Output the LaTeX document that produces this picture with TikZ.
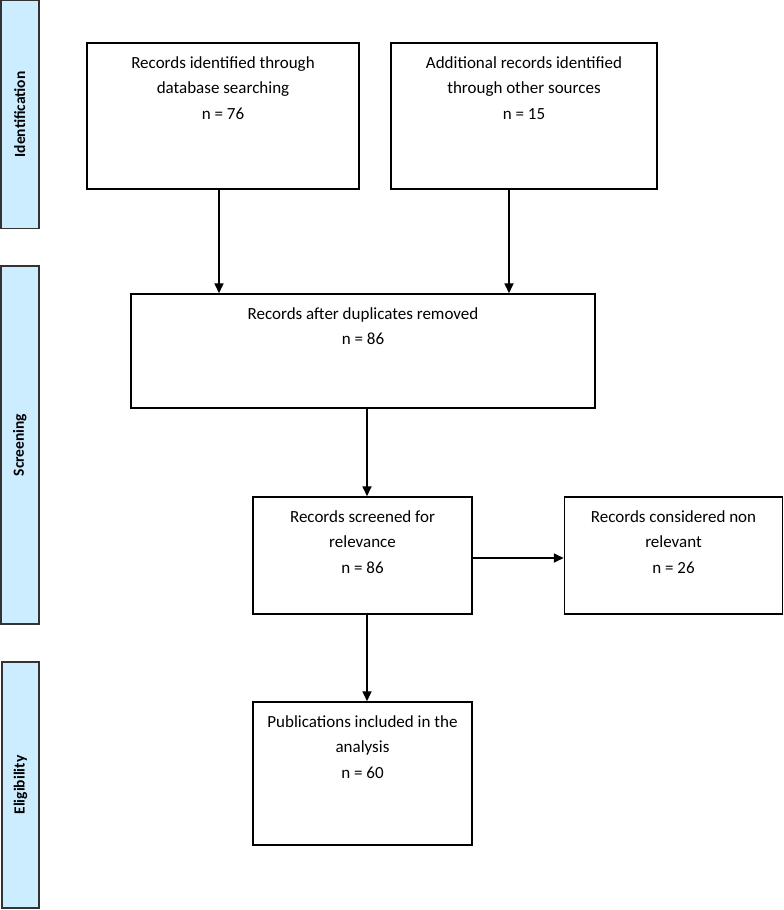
\documentclass[tikz,border=0pt]{standalone}
\usepackage{fontspec}
\setmainfont{Carlito}
\usetikzlibrary{arrows.meta}
\definecolor{phasefill}{RGB}{204,236,255}
\definecolor{phaseline}{RGB}{51,51,51}
\begin{document}
\begin{tikzpicture}[x=1pt,y=-1pt,
  box/.style={draw=black,line width=1.5pt,fill=white,inner sep=0pt},
  txt/.style={align=center,inner sep=0pt,anchor=north,font=\fontsize{17}{25.5}\selectfont},
  phase/.style={draw=phaseline,line width=1.4pt,fill=phasefill,inner sep=0pt,rotate=90,
    font=\fontsize{15.5}{18}\selectfont\bfseries},
  arr/.style={line width=1.7pt,-{Triangle[length=10pt,width=9pt]}}]
\useasboundingbox (0,0) rectangle (784,910);
% phase bars
\node[phase,minimum width=228pt,minimum height=38pt] (p1) at (19.8,114.5) {Identification};
\node[phase,minimum width=358pt,minimum height=38pt] (p2) at (19.8,445) {Screening};
\node[phase,minimum width=246pt,minimum height=37pt] (p3) at (20.5,785) {Eligibility};
% boxes
\node[box,minimum width=272pt,minimum height=146pt] (b1) at (223,116) {};
\node[box,minimum width=266pt,minimum height=146pt] (b2) at (524,116) {};
\node[box,minimum width=464pt,minimum height=114pt] (b3) at (363,351) {};
\node[box,minimum width=219pt,minimum height=117pt] (b4) at (362.5,555.5) {};
\node[box,minimum width=218pt,minimum height=117pt] (b5) at (673.5,555.5) {};
\node[box,minimum width=219pt,minimum height=143pt] (b6) at (362.5,773.5) {};
% texts
\node[txt] (t1) at ([yshift=-14pt]b1.north) {Records identified through\\database searching\\n = 76};
\node[txt] (t2) at ([yshift=-14pt]b2.north) {Additional records identified\\through other sources\\n = 15};
\node[txt] (t3) at ([yshift=-14pt]b3.north) {Records after duplicates removed\\n = 86};
\node[txt] (t4) at ([yshift=-14pt]b4.north) {Records screened for\\relevance\\n = 86};
\node[txt] (t5) at ([yshift=-14pt]b5.north) {Records considered non\\relevant\\n = 26};
\node[txt] (t6) at ([yshift=-14pt]b6.north) {Publications included in the\\analysis\\n = 60};
% connector positions
\coordinate (c1) at (219,0);
\coordinate (c2) at (509,0);
\coordinate (c3) at (367,0);
\coordinate (c4) at (0,558);
% connectors
\draw[arr] (b1.south -| c1) -- (b3.north -| c1);
\draw[arr] (b2.south -| c2) -- (b3.north -| c2);
\draw[arr] (b3.south -| c3) -- (b4.north -| c3);
\draw[arr] (b4.east |- c4) -- (b5.west |- c4);
\draw[arr] (b4.south -| c3) -- (b6.north -| c3);
\end{tikzpicture}
\end{document}
